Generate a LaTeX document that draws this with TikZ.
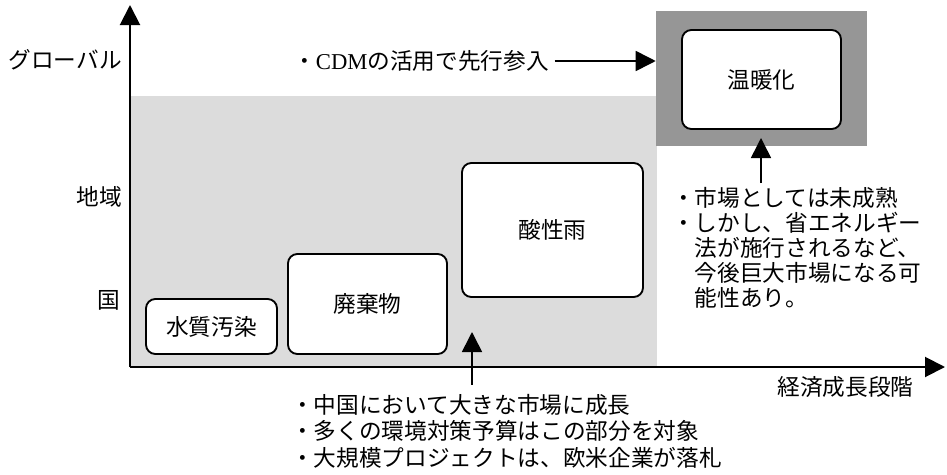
\documentclass[tikz,border=0pt]{standalone}
\usepackage{fontspec}
\setmainfont{Liberation Serif}
\newfontfamily\jp{Noto Sans CJK JP}
\usetikzlibrary{arrows.meta}
\definecolor{regionfill}{RGB}{220,220,220}
\definecolor{globalfill}{RGB}{150,150,150}
\begin{document}
\begin{tikzpicture}[x=0.75pt, y=-0.75pt, inner sep=0pt,
	font=\jp\fontsize{17}{20}\selectfont,
	box/.style={draw, line width=1.4pt, rounded corners=7pt, fill=white},
	axis/.style={line width=1.5pt, -{Triangle[length=15pt,width=15pt]}},
	arr/.style={line width=1.2pt, -{Triangle[length=15pt,width=15pt]}}]
	\useasboundingbox (0,0) rectangle (947,475);
	%regions
	\fill[regionfill] (130,96) rectangle (657,367);
	\node[fill=globalfill, minimum width=158.25pt, minimum height=101.25pt] (global) at (761.5,78.5) {};
	%axis
	\coordinate (origin) at (130,367);
	\coordinate (ytop) at (130,5);
	\coordinate (xend) at (945,367);
	\draw[axis] (origin) -- (ytop);
	\draw[axis] (origin) -- (xend);
	%labels
	\node[anchor=east] (globallevel) at (122,60) {グローバル};
	\node[anchor=east] (regionlevel) at (122,197) {地域};
	\node[anchor=east] (nationlevel) at (120,300) {国};
	\node (growth) at (845.5,387) {経済成長段階};
	%problems
	\node[box, minimum width=98.25pt, minimum height=41.25pt] (water) at (211.5,326.5) {水質汚染};
	\node[box, minimum width=119.25pt, minimum height=75pt] (waste) at (367.5,304) {廃棄物};
	\node[box, minimum width=135.75pt, minimum height=100.5pt] (acid) at (552.5,230) {酸性雨};
	\node[box, minimum width=119.25pt, minimum height=74.25pt] (warm) at (761.5,79.5) {温暖化};
	%notes
	\node[anchor=west] (cdm) at (293,61) {・{\rmfamily CDM}の活用で先行参入};
	\node[anchor=north west, align=left, font=\jp\fontsize{17}{18.75}\selectfont] (market) at (672,187) {
		・市場としては未成熟\\
		・しかし、省エネルギー\\
		　法が施行されるなど、\\
		　今後巨大市場になる可\\
		　能性あり。
	};
	\node[anchor=north west, align=left, font=\jp\fontsize{17}{19.9}\selectfont] (china) at (291,394) {
		・中国において大きな市場に成長\\
		・多くの環境対策予算はこの部分を対象\\
		・大規模プロジェクトは、欧米企業が落札
	};
	%arrows
	\coordinate (acidtip) at (472,332);
	\coordinate (warmtip) at (761,138);
	\draw[arr, shorten <=4pt] (cdm.east) -- (cdm.east -| global.west);
	\draw[arr, shorten <=7pt] (china.north -| acidtip) -- (acidtip);
	\draw[arr, shorten <=3pt] (market.north -| warmtip) -- (warmtip);
\end{tikzpicture}
\end{document}
